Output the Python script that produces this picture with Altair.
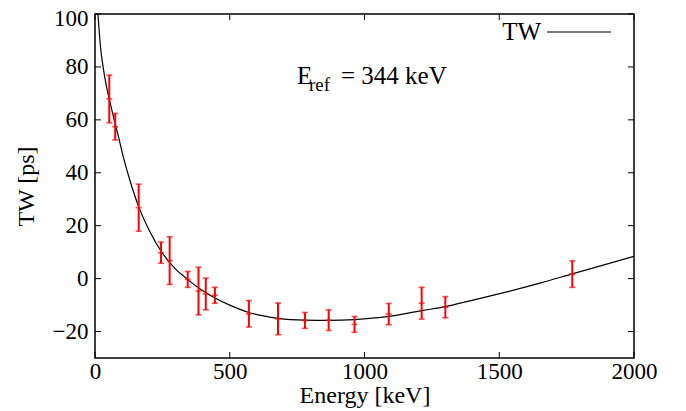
import altair as alt
import pandas as pd

# measured points
energy = [53, 75, 162, 245, 277, 344, 384, 411, 445, 571, 679, 779, 867, 963, 1090, 1212, 1300, 1771]
tw = [67.9, 57.4, 26.8, 9.8, 6.8, -0.3, -4.7, -5.8, -6.3, -13.3, -15.2, -15.8, -15.7, -17.3, -13.4, -9.3, -10.8, 1.7]
err = [9, 5, 8.9, 4, 9, 3, 9, 6, 3, 5, 6, 3, 3.9, 3, 4, 6, 4, 5]

# fitted curve
curve_e = [11, 20, 30, 40, 55, 70, 85, 105, 130, 161, 200, 251, 300, 340, 390, 445, 500, 571, 679, 779, 867, 963, 1090, 1212, 1300, 1391, 1528, 1651, 1771, 2000]
curve_tw = [100, 88, 80, 74, 67, 60.5, 54.5, 46, 37, 27.5, 18.5, 9.5, 3.5, 0, -3.9, -7.3, -10, -12.8, -15, -15.7, -15.8, -15.5, -14.3, -12.1, -10.6, -8.4, -5.0, -1.7, 1.8, 8.4]

x_ticks = [0, 500, 1000, 1500, 2000]
y_ticks = [-20, 0, 20, 40, 60, 80, 100]

XMIN, XMAX = 0, 2000
YMIN, YMAX = -30, 100
W, H = 539, 344
FONT = "Liberation Serif"

pts = pd.DataFrame({"E": energy, "TW": tw, "err": err})
pts["lo"] = pts["TW"] - pts["err"]
pts["hi"] = pts["TW"] + pts["err"]
cur = pd.DataFrame({"E": curve_e, "TW": curve_tw})

xs = alt.Scale(domain=[XMIN, XMAX], nice=False, zero=False)
ys = alt.Scale(domain=[YMIN, YMAX], nice=False, zero=False)

xax = alt.Axis(values=x_ticks, format="d", ticks=False, domain=False, grid=False, labelPadding=2,
               labelFontSize=23, titleFontSize=24, titlePadding=0, labelFlush=False)
yax = alt.Axis(values=y_ticks, format="d", ticks=False, domain=False, grid=False, labelPadding=7,
               labelFontSize=23, titleFontSize=24, titlePadding=14, labelFlush=False,
               labelOffset={"condition": {"test": "datum.value == 100", "value": 4}, "value": 0})

curve = alt.Chart(cur).mark_line(color="black", strokeWidth=1.2, interpolate="monotone", clip=True).encode(
    x=alt.X("E:Q", scale=xs, axis=xax, title="Energy [keV]"),
    y=alt.Y("TW:Q", scale=ys, axis=yax, title="TW [ps]"),
)

bars = alt.Chart(pts).mark_rule(color="#ff0000", strokeWidth=2).encode(
    x=alt.X("E:Q", scale=xs), y=alt.Y("lo:Q", scale=ys), y2="hi:Q"
)
cap_lo = alt.Chart(pts).mark_tick(color="#ff0000", orient="horizontal", size=6, thickness=1.6).encode(
    x=alt.X("E:Q", scale=xs), y=alt.Y("lo:Q", scale=ys)
)
cap_hi = alt.Chart(pts).mark_tick(color="#ff0000", orient="horizontal", size=6, thickness=1.6).encode(
    x=alt.X("E:Q", scale=xs), y=alt.Y("hi:Q", scale=ys)
)
center = alt.Chart(pts).mark_tick(color="#ff0000", orient="horizontal", size=6, thickness=1.6).encode(
    x=alt.X("E:Q", scale=xs), y=alt.Y("TW:Q", scale=ys)
)

# inside tick marks on all four sides
tlx = 6 * (XMAX - XMIN) / W
tly = 6 * (YMAX - YMIN) / H
xt = pd.DataFrame({"v": x_ticks})
yt = pd.DataFrame({"v": y_ticks})
xt_bot = alt.Chart(xt).mark_rule(color="black", strokeWidth=1).encode(
    x=alt.X("v:Q", scale=xs), y=alt.datum(YMIN, scale=ys), y2=alt.datum(YMIN + tly))
xt_top = alt.Chart(xt).mark_rule(color="black", strokeWidth=1).encode(
    x=alt.X("v:Q", scale=xs), y=alt.datum(YMAX, scale=ys), y2=alt.datum(YMAX - tly))
yt_l = alt.Chart(yt).mark_rule(color="black", strokeWidth=1).encode(
    y=alt.Y("v:Q", scale=ys), x=alt.datum(XMIN, scale=xs), x2=alt.datum(XMIN + tlx))
yt_r = alt.Chart(yt).mark_rule(color="black", strokeWidth=1).encode(
    y=alt.Y("v:Q", scale=ys), x=alt.datum(XMAX, scale=xs), x2=alt.datum(XMAX - tlx))

# legend (gnuplot style: label then sample)
leg_text = alt.Chart(pd.DataFrame({"t": ["TW"]})).mark_text(
    font=FONT, fontSize=25, align="right", baseline="middle", color="black").encode(
    text="t:N", x=alt.value(446), y=alt.value(18))
leg_line = alt.Chart(pd.DataFrame({"t": ["TW"]})).mark_rule(color="black", strokeWidth=1.2).encode(
    x=alt.value(452), x2=alt.value(516), y=alt.value(18))

# annotation E_ref = 344 keV
ann_e = alt.Chart(pd.DataFrame({"t": ["E"]})).mark_text(
    font=FONT, fontSize=25, align="left", baseline="middle", color="black").encode(
    text="t:N", x=alt.value(202), y=alt.value(62))
ann_sub = alt.Chart(pd.DataFrame({"t": ["ref"]})).mark_text(
    font=FONT, fontSize=19, align="left", baseline="middle", color="black").encode(
    text="t:N", x=alt.value(214), y=alt.value(71))
ann_rest = alt.Chart(pd.DataFrame({"t": ["= 344 keV"]})).mark_text(
    font=FONT, fontSize=25, align="left", baseline="middle", color="black").encode(
    text="t:N", x=alt.value(246), y=alt.value(62))

chart = alt.layer(
    curve, bars, cap_lo, cap_hi, center,
    xt_bot, xt_top, yt_l, yt_r,
    leg_text, leg_line, ann_e, ann_sub, ann_rest,
).properties(
    width=W, height=H,
    autosize=alt.AutoSizeParams(type="none"),
    padding={"left": 87, "top": 6, "right": 40, "bottom": 52},
    background="white",
).configure_view(
    stroke="black", strokeWidth=1.5
).configure_axis(
    labelFont=FONT, titleFont=FONT, labelColor="black", titleColor="black",
    titleFontWeight="normal",
)

chart.save("out.html", embed_options={"renderer": "svg", "actions": False})
